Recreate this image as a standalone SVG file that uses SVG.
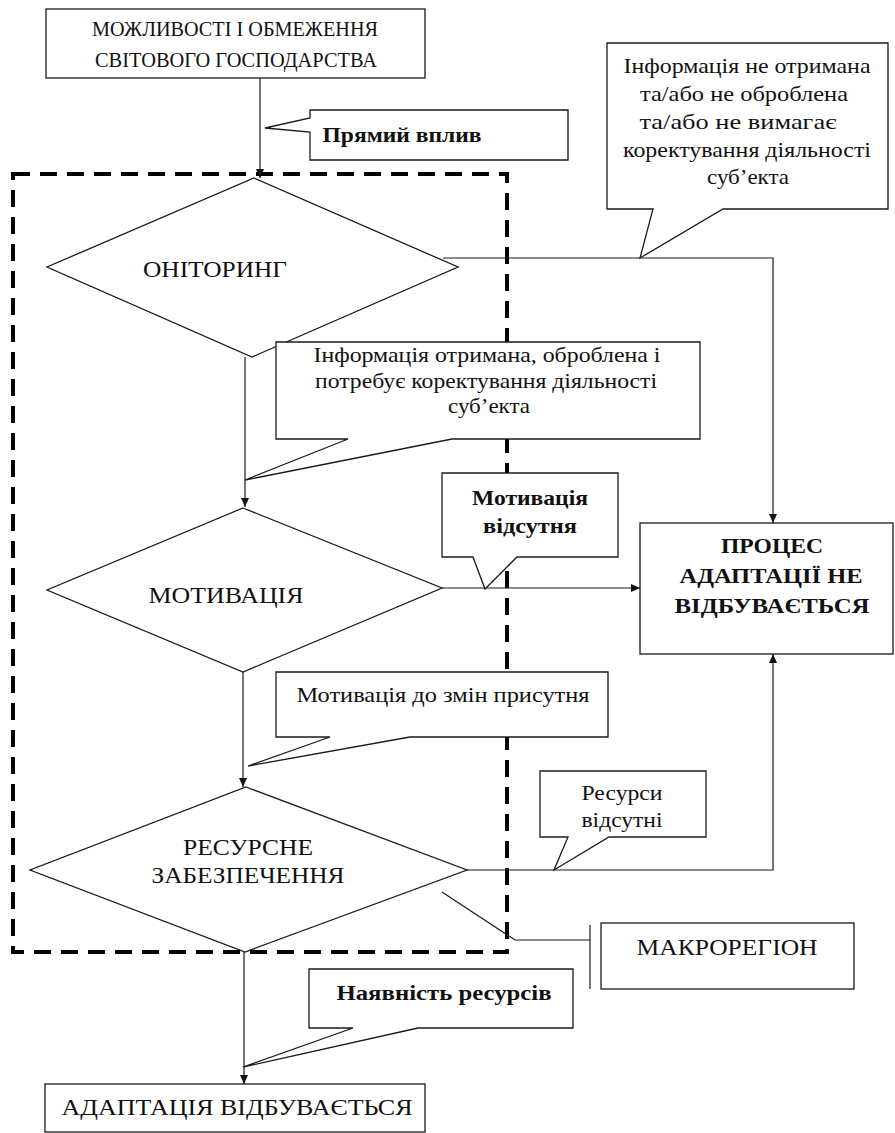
<svg xmlns="http://www.w3.org/2000/svg" width="895" height="1133" viewBox="0 0 895 1133" font-family="'Liberation Serif', serif">
<style>
  .shape{fill:#fff;stroke:#1a1a1a;stroke-width:1.3}
  .conn{fill:none;stroke:#1a1a1a;stroke-width:1.2}
  .t{font-family:'Liberation Serif',serif;fill:#111;text-anchor:middle}
  .b{font-weight:bold}
  .region{fill:none;stroke:#000;stroke-width:4;stroke-dasharray:17 10}
</style>
<defs>
  <marker id="arr" markerUnits="userSpaceOnUse" markerWidth="9" markerHeight="8" refX="9" refY="4" orient="auto">
    <path d="M0,0 L9,4 L0,8 Z" fill="#111"/>
  </marker>
</defs>
<rect width="895" height="1133" fill="#fff"/>

<g id="node-top">
  <rect class="shape" x="46" y="9" width="379" height="69"/>
  <text class="t" x="235" y="36" font-size="20" textLength="286" lengthAdjust="spacingAndGlyphs">МОЖЛИВОСТІ І ОБМЕЖЕННЯ</text>
  <text class="t" x="236" y="67" font-size="20" textLength="282" lengthAdjust="spacingAndGlyphs">СВІТОВОГО ГОСПОДАРСТВА</text>
</g>

<g id="node-monitoring">
  <polygon class="shape" points="254,178 458,267 252,357 47,267"/>
  <text class="t" x="215" y="277" font-size="23" textLength="144" lengthAdjust="spacingAndGlyphs">ОНІТОРИНГ</text>
</g>

<g id="node-motivation">
  <polygon class="shape" points="243,508 442,588 243,672 47,590"/>
  <text class="t" x="226" y="603" font-size="23" textLength="155" lengthAdjust="spacingAndGlyphs">МОТИВАЦІЯ</text>
</g>

<g id="node-resources">
  <polygon class="shape" points="246,787 467,870 245,952 30,870"/>
  <text class="t" x="248" y="855" font-size="23" textLength="130" lengthAdjust="spacingAndGlyphs">РЕСУРСНЕ</text>
  <text class="t" x="248" y="883" font-size="23" textLength="193" lengthAdjust="spacingAndGlyphs">ЗАБЕЗПЕЧЕННЯ</text>
</g>

<g id="node-no-adaptation">
  <rect class="shape" x="640" y="523" width="253" height="131"/>
  <text class="t b" x="772" y="553" font-size="22" textLength="102" lengthAdjust="spacingAndGlyphs">ПРОЦЕС</text>
  <text class="t b" x="771" y="583" font-size="22" textLength="183" lengthAdjust="spacingAndGlyphs">АДАПТАЦІЇ НЕ</text>
  <text class="t b" x="772" y="613" font-size="22" textLength="195" lengthAdjust="spacingAndGlyphs">ВІДБУВАЄТЬСЯ</text>
</g>

<g id="node-macroregion">
  <rect class="shape" x="601" y="923" width="253" height="66"/>
  <text class="t" x="727" y="955" font-size="23" textLength="181" lengthAdjust="spacingAndGlyphs">МАКРОРЕГІОН</text>
</g>

<g id="node-adaptation">
  <rect class="shape" x="45" y="1084" width="380" height="48"/>
  <text class="t" x="237" y="1115" font-size="23" textLength="351" lengthAdjust="spacingAndGlyphs">АДАПТАЦІЯ ВІДБУВАЄТЬСЯ</text>
</g>

<g id="region-boundary">
  <rect class="region" x="13" y="174" width="494" height="778"/>
</g>

<g id="connectors">
  <path class="conn" d="M260,78 L260,178" marker-end="url(#arr)"/>
  <path class="conn" d="M245,357 L245,507" marker-end="url(#arr)"/>
  <path class="conn" d="M243,672 L243,787" marker-end="url(#arr)"/>
  <path class="conn" d="M244,952 L244,1084" marker-end="url(#arr)"/>
  <path class="conn" d="M442,588 L640,588" marker-end="url(#arr)"/>
  <path class="conn" d="M443,258 L773,258 L773,523" marker-end="url(#arr)"/>
  <path class="conn" d="M467,870 L773,870 L773,654" marker-end="url(#arr)"/>
  <path class="conn" d="M442,892 L515,940 L590,940"/>
  <path class="conn" d="M590,925 L590,989"/>
</g>

<g id="label-direct">
  <path class="shape" d="M310,110 L568,110 L568,160 L310,160 L310,132 L265,128 L310,118 Z"/>
  <text class="t b" x="402" y="142" font-size="22" textLength="159" lengthAdjust="spacingAndGlyphs">Прямий вплив</text>
</g>

<g id="label-info-not">
  <path class="shape" d="M607,43 L888,43 L888,209 L723,209 L640,258 L653,209 L607,209 Z"/>
  <text class="t" x="747" y="73" font-size="22" textLength="247" lengthAdjust="spacingAndGlyphs">Інформація не отримана</text>
  <text class="t" x="744" y="101" font-size="22" textLength="208" lengthAdjust="spacingAndGlyphs">та/або не оброблена</text>
  <text class="t" x="738" y="129" font-size="22" textLength="197" lengthAdjust="spacingAndGlyphs">та/або не вимагає</text>
  <text class="t" x="747" y="157" font-size="22" textLength="248" lengthAdjust="spacingAndGlyphs">коректування діяльності</text>
  <text class="t" x="748" y="184" font-size="22" textLength="82" lengthAdjust="spacingAndGlyphs">суб’екта</text>
</g>

<g id="label-info-yes">
  <path class="shape" d="M276,342 L700,342 L700,439 L452,439 L245,480 L348,439 L276,439 Z"/>
  <text class="t" x="487" y="362" font-size="21" textLength="347" lengthAdjust="spacingAndGlyphs">Інформація отримана, оброблена і</text>
  <text class="t" x="486" y="388" font-size="21" textLength="342" lengthAdjust="spacingAndGlyphs">потребує коректування діяльності</text>
  <text class="t" x="489" y="413" font-size="21" textLength="82" lengthAdjust="spacingAndGlyphs">суб’екта</text>
</g>

<g id="label-motivation-absent">
  <path class="shape" d="M442,473 L618,473 L618,557 L517,557 L485,589 L473,557 L442,557 Z"/>
  <text class="t b" x="530" y="505" font-size="22" textLength="116" lengthAdjust="spacingAndGlyphs">Мотивація</text>
  <text class="t b" x="530" y="533" font-size="22" textLength="94" lengthAdjust="spacingAndGlyphs">відсутня</text>
</g>

<g id="label-motivation-present">
  <path class="shape" d="M276,672 L608,672 L608,737 L410,737 L248,766 L330,737 L276,737 Z"/>
  <text class="t" x="443" y="702" font-size="21" textLength="293" lengthAdjust="spacingAndGlyphs">Мотивація до змін присутня</text>
</g>

<g id="label-resources-absent">
  <path class="shape" d="M540,771 L706,771 L706,837 L609,837 L554,870 L568,837 L540,837 Z"/>
  <text class="t" x="622" y="800" font-size="21" textLength="81" lengthAdjust="spacingAndGlyphs">Ресурси</text>
  <text class="t" x="622" y="827" font-size="21" textLength="81" lengthAdjust="spacingAndGlyphs">відсутні</text>
</g>

<g id="label-resources-present">
  <path class="shape" d="M309,969 L573,969 L573,1028 L418,1028 L243,1067 L353,1028 L309,1028 Z"/>
  <text class="t b" x="444" y="1000" font-size="22" textLength="215" lengthAdjust="spacingAndGlyphs">Наявність ресурсів</text>
</g>
</svg>
